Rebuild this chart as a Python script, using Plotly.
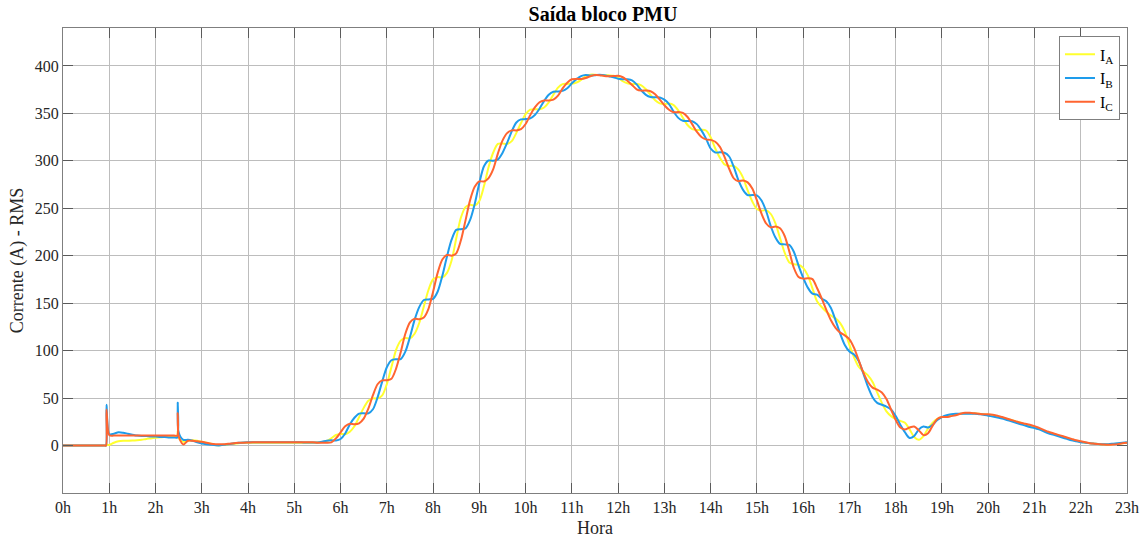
import plotly.graph_objects as go

# sample times (hours) of the regular 6-minute series
hours = [round(0.1 * i, 1) for i in range(231)]

# extra samples used for the switching spikes near 1h and 2.5h
spike_hours = [0.93, 0.94, 2.47, 2.48]
spike_ia = [0, 1, 9.5, 15]
spike_ib = [0, 43, 8.5, 45]
spike_ic = [0, 38, 10.5, 34]

ia = ([0] * 10 +
      [0.7, 3, 4.5, 5, 5, 5.2, 5.5, 6, 7, 7.5, 8.2, 8.7, 9, 9.3, 9.5,
       8, 4, 5, 5.5, 5, 4, 3, 2, 0.5, 0.3, 0.8, 1.5, 2, 2.5, 3] +
      [3] * 15 +
      [3.2, 3.6, 4.8, 7.6, 11.1, 12.2, 12.0, 14.6, 20.3, 29.9,
       39.7, 47.3, 49.7, 49.6, 52.8, 64.7, 82.7, 100.9, 110.6, 113.4,
       112.9, 117.8, 129.1, 146.6, 163.9, 175.2, 177.5, 177.2, 182, 195,
       218.1, 240, 251.3, 253.7, 252.9, 257.8, 273.4, 293.6, 308.8, 317.9,
       318.3, 317.9, 320.8, 329.5, 339.9, 349.2, 354, 354.4, 354.3, 356.2,
       361.7, 369.7, 377.2, 380.9, 381.1, 381.3, 382.6, 385.4, 389.3, 390.8,
       390.8, 390.4, 390.3, 390.1, 389.6, 387.7, 383.9, 381.8, 381.1, 381,
       379.6, 375.4, 369.5, 363.9, 360.6, 359.9, 360.4, 358.8, 353.3, 345.3,
       337.8, 333.5, 332.6, 332.7, 332, 324.9, 313, 303.3, 296.3, 294.7,
       294.7, 290.8, 282.3, 268.8, 257.2, 249.2, 247.5, 248.1, 244, 234.1,
       218.6, 203.2, 192.9, 191, 190.7, 187.2, 179.3, 165.7, 152, 146,
       141, 137, 134, 129, 120, 106, 93, 83, 78, 74,
       67, 56, 45, 36, 31, 28, 26, 24, 17, 9,
       6, 10, 18, 24, 28, 30, 31, 32, 33, 33.5,
       34, 34, 34, 33.5, 33, 32.5, 32, 31, 29.5, 28,
       27, 25.5, 24, 22, 20.5, 19, 17.5, 15.5, 14, 12.5,
       11, 9.5, 8, 6.5, 5, 4, 3, 2.5, 2, 1.5,
       1.2, 1.2, 1.5, 2, 2.5, 3])

ib = ([0] * 10 +
      [12, 12.5, 14, 13.5, 12.5, 11.5, 10.5, 10, 10, 9.5, 9.5, 9, 9, 8.5, 8.5,
       14, 6, 6, 5, 3.5, 2.2, 1.4, 0.8, 0.3, 0.2, 0.8, 1.6, 2.4, 3, 3.3] +
      [3.5] * 11 +
      [3.4, 3.3, 3.2, 3.1,
       3.3, 4.0, 5.0, 5.5, 5.4, 6.9, 12.7, 22.3, 29.3, 33.7,
       34, 33.9, 38.2, 50.8, 67.4, 82.5, 89.9, 91, 91.1, 98.9,
       114.3, 132.4, 145.9, 153.4, 154, 154.6, 162.3, 178.8, 199.2, 216.9,
       227.3, 228, 228.7, 237.7, 254.5, 276.7, 294.3, 300.4, 300, 301.5,
       308.4, 318.9, 331.1, 340.4, 343.7, 344, 344.8, 348.3, 354.9, 363.1,
       369.7, 372.8, 373, 373.7, 376.5, 381.7, 386, 389.3, 390.4, 390,
       390.3, 390.8, 390.3, 389.2, 388.1, 386.6, 386, 385.9, 384.9, 380.6,
       374.4, 369.5, 367.2, 367, 366.8, 364.5, 359.8, 351.9, 345.3, 342.2,
       342, 341.8, 338.7, 332.1, 323.4, 313, 308.8, 309, 308.6, 304.6,
       293.6, 279.6, 269.4, 263.9, 264, 263.6, 258.2, 246.9, 231.1, 219.2,
       212.5, 212, 211.4, 203.9, 189.6, 176.9, 166.4, 160, 159, 155,
       152, 145, 132, 118, 106, 99, 96, 89, 76, 62,
       51, 45, 43, 41, 38, 31, 22, 14, 8, 10,
       17, 20, 19, 22, 27, 30, 32, 33, 33.5, 33.5,
       33.5, 33.5, 33.5, 33, 32.5, 31.5, 30.5, 29.5, 28.5, 27,
       25.5, 24, 22.5, 21, 19.5, 18.5, 17, 15, 13, 11.5,
       10, 8.5, 7, 5.5, 4.5, 3.5, 3, 2.5, 2, 1.5,
       1.5, 1.5, 2, 2.5, 3, 3.5])

ic = ([0] * 10 +
      [11, 10.5] + [10.5] * 13 +
      [10, 1, 5, 5, 4.5, 4, 3, 2, 1.5, 1.5, 1.5, 2, 2.5, 3, 3, 3.2] +
      [3.4] * 14 +
      [3.0, 2.9, 3.0, 3.4, 7.5, 13.9, 20.4, 23.0, 22.4, 23.4,
       28.3, 38.8, 53.1, 64.6, 68.7, 68.8, 70.4, 81.1, 98.3, 117.8,
       129.8, 133.7, 133.0, 134.9, 144.1, 162.2, 182.2, 196, 200.8, 200.1,
       202.6, 216, 237, 258.6, 272.6, 278.4, 278.3, 281.9, 291.2, 307.6,
       321.3, 329.2, 332.1, 332.1, 333.4, 338.8, 348.2, 356.3, 361.8, 363.7,
       363.6, 364.5, 368.8, 376.4, 382.4, 386, 386.4, 386.3, 387.3, 389.2,
       390.5, 390.3, 389.4, 389.2, 389.3, 389.7, 388.1, 384.4, 380, 375.4,
       374, 374.1, 373.4, 370.1, 364.5, 358.6, 353.8, 351.3, 351.4, 350.5,
       346.2, 338.7, 330.7, 325.2, 322.6, 322.1, 320.1, 314.7, 304.1, 291.7,
       281.6, 278.6, 279.3, 277.3, 270.8, 258.3, 244.3, 234, 229.9, 230.7,
       228.9, 220.8, 204.6, 187.1, 177.6, 175.9, 176.3, 175.4, 166, 155,
       143, 132, 124, 119, 116, 112, 103, 90, 77, 67,
       61, 59, 56, 49, 38, 27, 19, 17, 19, 20,
       16, 11, 13, 21, 28, 30, 30, 31, 32, 33.5,
       34.5, 34.5, 34, 33.5, 33, 33, 32.5, 31.5, 30, 28.5,
       27, 25.5, 24, 23, 22, 20.5, 18.5, 16.5, 14.5, 13,
       11.5, 10, 8.5, 7, 5.5, 4.5, 3.5, 2.5, 2, 1.5,
       1, 0.8, 1, 1.5, 2.5, 3])

x_tick_vals = list(range(24))
x_tick_text = [f"{h}h" for h in x_tick_vals]
y_tick_vals = list(range(0, 401, 50))

names = ["I<sub>A</sub>", "I<sub>B</sub>", "I<sub>C</sub>"]
colors = ["#FFFF2E", "#1E9CEB", "#FF6430"]


def merge(base, spikes):
    pts = sorted(zip(hours + spike_hours, base + spikes), key=lambda p: p[0])
    return [p[0] for p in pts], [p[1] for p in pts]


fig = go.Figure()
for series, spk, name, col in zip([ia, ib, ic], [spike_ia, spike_ib, spike_ic], names, colors):
    xs, ys = merge(series, spk)
    fig.add_trace(go.Scatter(x=xs, y=ys, mode="lines", name=name,
                             line=dict(color=col, width=2, shape="spline", smoothing=0.8)))

font_family = "Liberation Serif, Times New Roman, serif"
fig.update_layout(
    width=1146, height=539,
    margin=dict(l=63, r=19, t=28, b=46, autoexpand=False),
    paper_bgcolor="white", plot_bgcolor="white",
    font=dict(family=font_family, size=16, color="#262626"),
    title=dict(text="<b>Saída bloco PMU</b>", x=603 / 1146, xanchor="center",
               y=1 - 14 / 539, yanchor="middle",
               font=dict(family=font_family, size=20, color="black")),
    showlegend=True,
    legend=dict(x=0.9934, xanchor="right", y=0.982, yanchor="top",
                bgcolor="white", bordercolor="#7f7f7f", borderwidth=1,
                font=dict(size=16, color="black"), itemwidth=30, tracegroupgap=0),
)
fig.update_xaxes(range=[0, 23], tickvals=x_tick_vals, ticktext=x_tick_text,
                 automargin=False,
                 showgrid=True, gridcolor="#bdbdbd", gridwidth=1, zeroline=False,
                 showline=True, linecolor="#7f7f7f", linewidth=1, mirror="ticks",
                 ticks="inside", ticklen=10, tickcolor="#5a5a5a",
                 title=dict(text="Hora", font=dict(size=18), standoff=6),
                 tickfont=dict(size=16))
fig.update_yaxes(range=[-50, 440], tickvals=y_tick_vals,
                 automargin=False,
                 showgrid=True, gridcolor="#bdbdbd", gridwidth=1, zeroline=False,
                 showline=True, linecolor="#7f7f7f", linewidth=1, mirror="ticks",
                 ticks="inside", ticklen=10, tickcolor="#5a5a5a",
                 title=dict(text="Corrente (A) - RMS", font=dict(size=18), standoff=6),
                 tickfont=dict(size=16))

fig.write_html("out.html")
